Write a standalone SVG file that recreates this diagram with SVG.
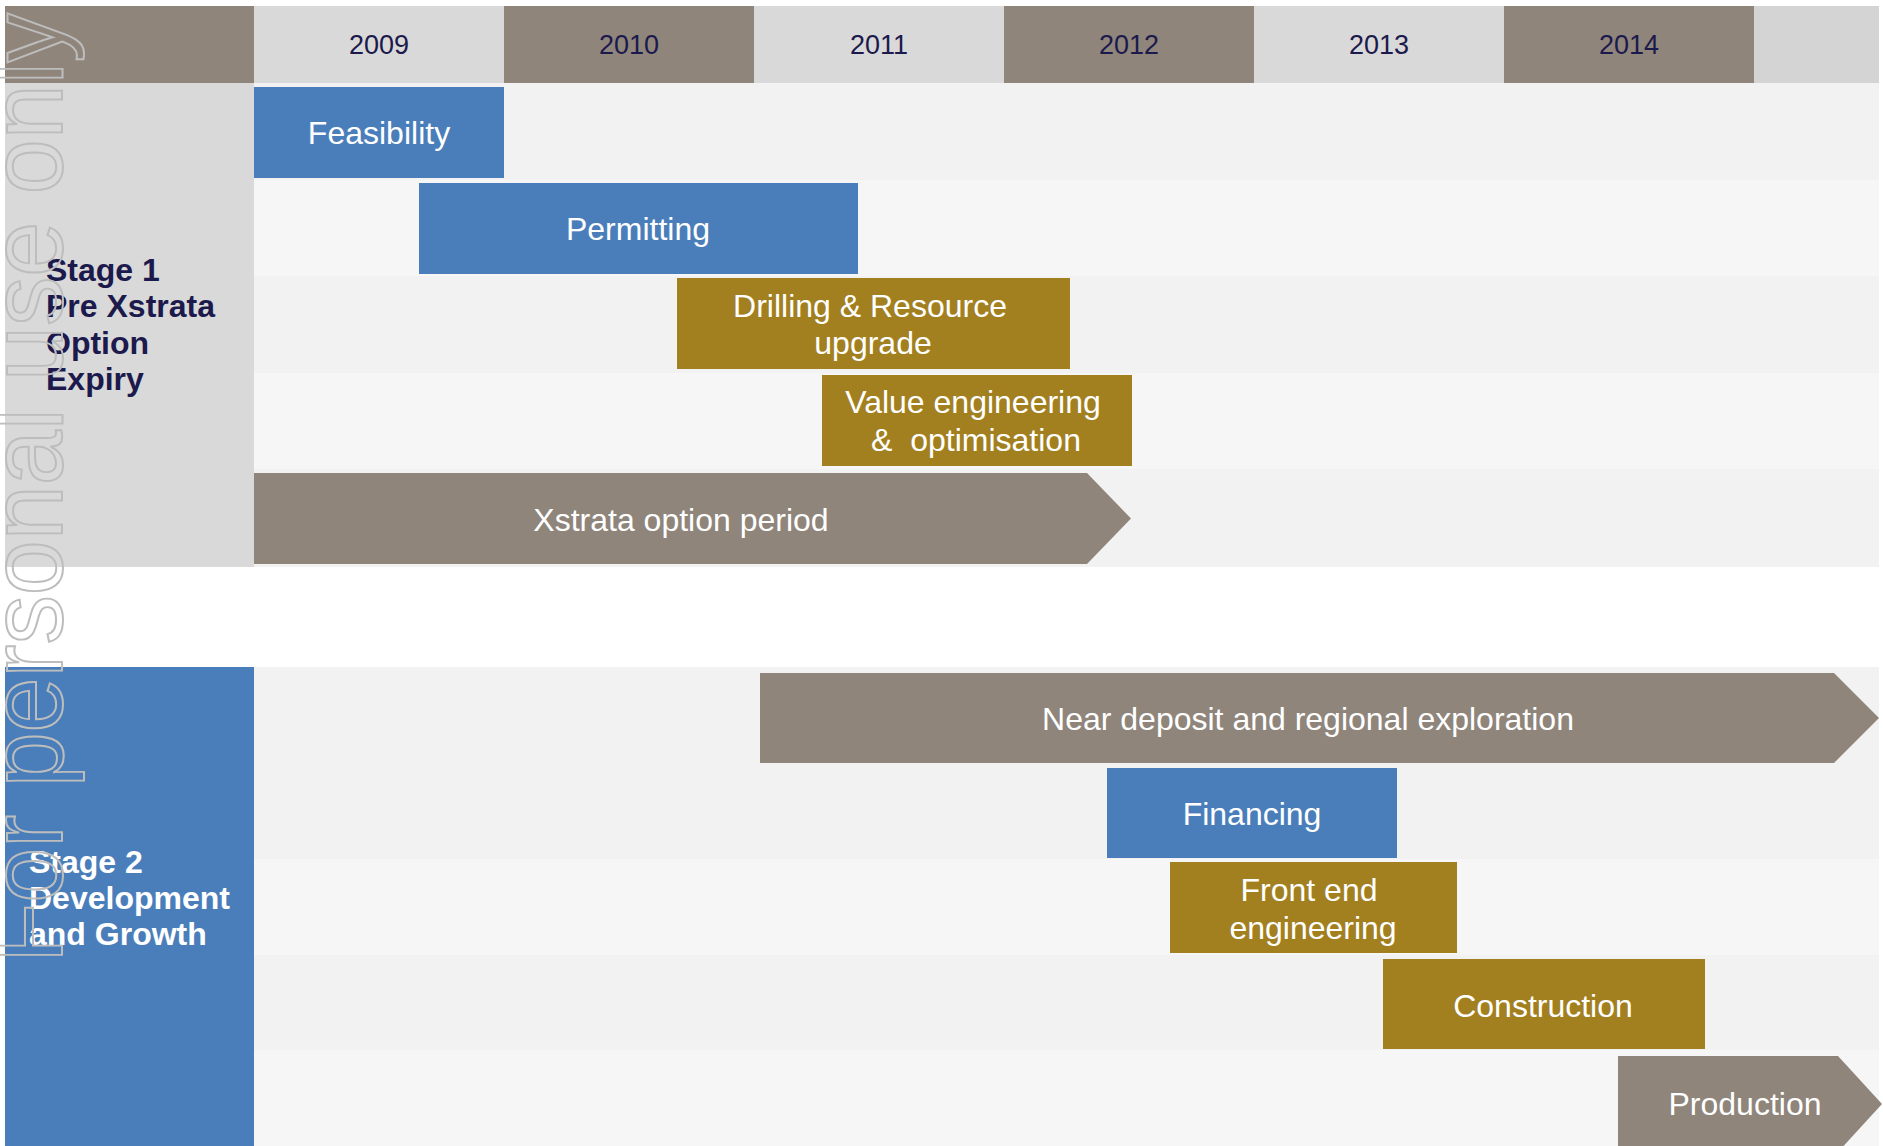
<svg xmlns="http://www.w3.org/2000/svg" width="1883" height="1146" viewBox="0 0 1883 1146">
<style>
.taupe{fill:#8f857b}
.lgray{fill:#d9d9d9}
.blue{fill:#4a7eba}
.gold{fill:#a3801f}
.r1{fill:#f2f2f2}
.r2{fill:#f6f6f6}
.yr{font-family:"Liberation Sans",Arial,sans-serif;font-size:27px;fill:#1c1a4c;text-anchor:middle}
.bar{font-family:"Liberation Sans",Arial,sans-serif;font-size:32px;fill:#ffffff;text-anchor:middle}
.stage{font-family:"Liberation Sans",Arial,sans-serif;font-size:32px;font-weight:bold}
.wm{font-family:"Liberation Sans",Arial,sans-serif;font-size:104px;fill:none;stroke:#bdbdbd;stroke-width:2}
</style>
<rect width="1883" height="1146" fill="#ffffff"/>
<g id="rows">
<rect class="r1" x="254" y="83" width="1625" height="97"/>
<rect class="r2" x="254" y="180" width="1625" height="96"/>
<rect class="r1" x="254" y="276" width="1625" height="97"/>
<rect class="r2" x="254" y="373" width="1625" height="96"/>
<rect class="r1" x="254" y="469" width="1625" height="98"/>
<rect class="r1" x="254" y="667" width="1625" height="192"/>
<rect class="r2" x="254" y="859" width="1625" height="96"/>
<rect class="r1" x="254" y="955" width="1625" height="95"/>
<rect class="r2" x="254" y="1050" width="1625" height="96"/>
</g>
<g id="header">
<rect class="taupe" x="5" y="6" width="249" height="77"/>
<rect class="lgray" x="254" y="6" width="250" height="77"/>
<rect class="taupe" x="504" y="6" width="250" height="77"/>
<rect class="lgray" x="754" y="6" width="250" height="77"/>
<rect class="taupe" x="1004" y="6" width="250" height="77"/>
<rect class="lgray" x="1254" y="6" width="250" height="77"/>
<rect class="taupe" x="1504" y="6" width="250" height="77"/>
<rect x="1754" y="6" width="125" height="77" fill="#d4d4d4"/>
<text class="yr" x="379" y="54">2009</text>
<text class="yr" x="629" y="54">2010</text>
<text class="yr" x="879" y="54">2011</text>
<text class="yr" x="1129" y="54">2012</text>
<text class="yr" x="1379" y="54">2013</text>
<text class="yr" x="1629" y="54">2014</text>
</g>
<g id="stage1">
<rect class="lgray" x="5" y="83" width="249" height="484"/>
<text class="stage" fill="#1c1a4c"><tspan x="46" y="281">Stage 1</tspan><tspan x="46" y="317">Pre Xstrata</tspan><tspan x="46" y="354">Option</tspan><tspan x="46" y="390">Expiry</tspan></text>
</g>
<g id="stage2">
<rect class="blue" x="5" y="667" width="249" height="479"/>
<text class="stage" fill="#ffffff"><tspan x="29" y="873">Stage 2</tspan><tspan x="29" y="909">Development</tspan><tspan x="29" y="945">and Growth</tspan></text>
</g>
<g id="feasibility">
<rect class="blue" x="254" y="87" width="250" height="91"/>
<text class="bar" x="379" y="144">Feasibility</text>
</g>
<g id="permitting">
<rect class="blue" x="419" y="183" width="439" height="91"/>
<text class="bar" x="638" y="240">Permitting</text>
</g>
<g id="drilling">
<rect class="gold" x="677" y="278" width="393" height="91"/>
<text class="bar"><tspan x="870" y="317">Drilling &amp; Resource</tspan><tspan x="873" y="354">upgrade</tspan></text>
</g>
<g id="value-engineering">
<rect class="gold" x="822" y="375" width="310" height="91"/>
<text class="bar"><tspan x="973" y="413">Value engineering</tspan><tspan x="976" y="451" xml:space="preserve">&amp;  optimisation</tspan></text>
</g>
<g id="xstrata-option">
<polygon class="taupe" points="254,473 1087,473 1131,518.5 1087,564 254,564"/>
<text class="bar" x="681" y="531">Xstrata option period</text>
</g>
<g id="near-deposit">
<polygon class="taupe" points="760,673 1834,673 1879,718 1834,763 760,763"/>
<text class="bar" x="1308" y="730">Near deposit and regional exploration</text>
</g>
<g id="financing">
<rect class="blue" x="1107" y="768" width="290" height="90"/>
<text class="bar" x="1252" y="825">Financing</text>
</g>
<g id="front-end">
<rect class="gold" x="1170" y="862" width="287" height="91"/>
<text class="bar"><tspan x="1309" y="901">Front end</tspan><tspan x="1313" y="939">engineering</tspan></text>
</g>
<g id="construction">
<rect class="gold" x="1383" y="959" width="322" height="90"/>
<text class="bar" x="1543" y="1017">Construction</text>
</g>
<g id="production">
<polygon class="taupe" points="1618,1056 1838,1056 1882,1104 1838,1152 1618,1152"/>
<text class="bar" x="1745" y="1115">Production</text>
</g>
<g id="connectors"></g>
<text class="wm" transform="translate(62,963) rotate(-90)" textLength="950" lengthAdjust="spacingAndGlyphs">For personal use only</text>
</svg>
